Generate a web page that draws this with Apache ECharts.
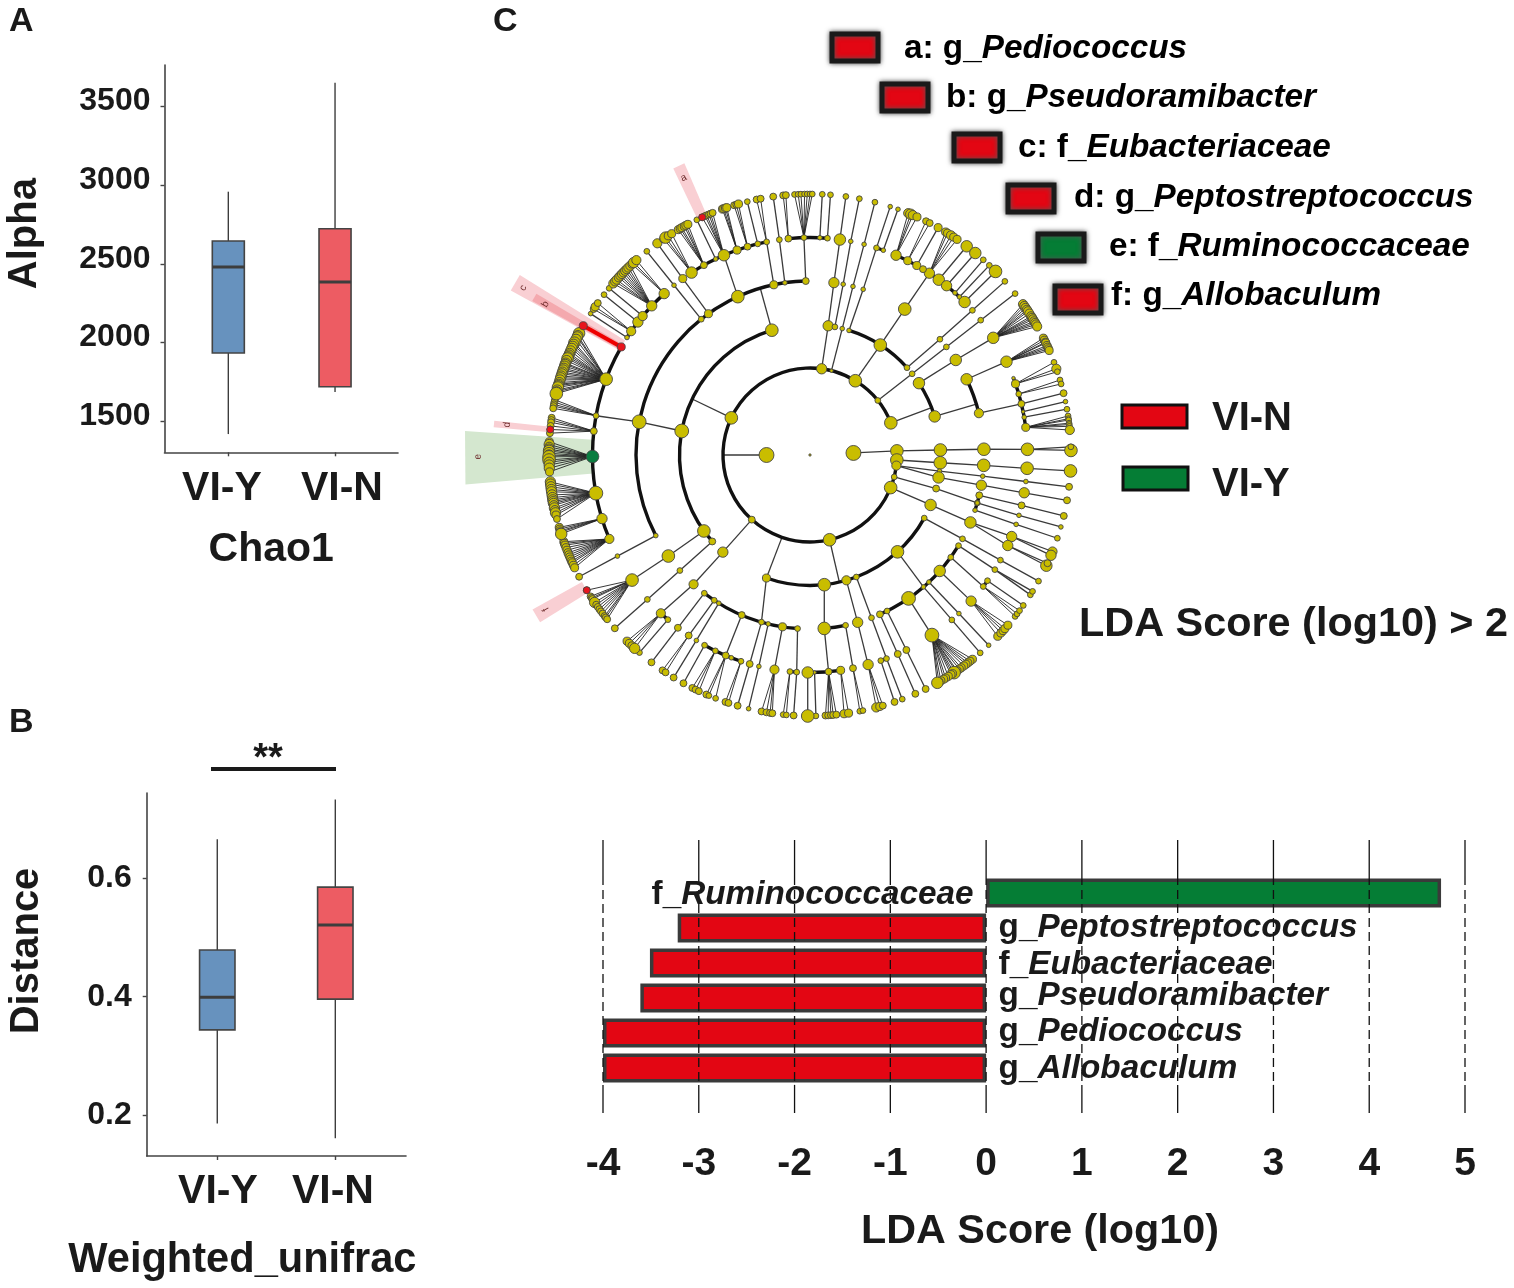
<!DOCTYPE html>
<html><head><meta charset="utf-8"><style>html,body{margin:0;background:#fff}#c{width:1514px;height:1288px}</style>
<script src="https://cdn.jsdelivr.net/npm/echarts@6/dist/echarts.min.js"></script></head>
<body><div id="c"></div><script>
// ---------- Panels A and B: [group position, low, Q1, median, Q3, high]
const groupNames = ['VI-Y', 'VI-N'];
const chao1Boxes = [[1, 1417, 1933, 2480, 2645, 2959], [2, 1684, 1718, 2384, 2723, 3652]];
const unifracBoxes = [[1, 0.186, 0.344, 0.399, 0.479, 0.666], [2, 0.161, 0.396, 0.521, 0.585, 0.733]];
const chao1Ticks = [1500, 2000, 2500, 3000, 3500];
const unifracTicks = [0.2, 0.4, 0.6];
// ---------- Panel C bars
const barTaxa = ['f_Ruminococcaceae', 'g_Peptostreptococcus', 'f_Eubacteriaceae', 'g_Pseudoramibacter', 'g_Pediococcus', 'g_Allobaculum'];
const barScores = [4.75, -3.22, -3.51, -3.61, -4, -4];
const ldaTicks = [-4, -3, -2, -1, 0, 1, 2, 3, 4, 5];
// ---------- Cladogram, polar values: level (ring), angle in degrees clockwise from north, marker size
const arcs = [[2,87.3,428.3],[3,56.6,72.8],[3,17.4,48],[3,8,11],[3,118.9,199.5],[3,-131.5,-17],[3,97.1,99.9],
 [4,64.2,76.1],[4,121.4,156.3],[4,184.1,217.4],[4,168.2,175.3],[4,103.4,108.5],[4,-117.6,-1.4],
 [5,23.3,45.3],[5,-5.7,4.6],[5,17.8,19.7],[5,69.3,82.7],[5,-112.7,-60.2],[5,-57.3,-42.1],[5,-33,-11.5],
 [5,198.5,209],[5,183.5,185.3],[5,171.9,180.6],[5,220.8,223.3],[5,159.4,161],[5,125.3,127.2],[5,112,114.6]];
const chains = [
 [[0,0,2]],
 [[1,87.3,13],[2,87.3,11],[3,87.8,11],[4,88.1,11],[5,88.5,11],[6,89,11]], [[5,88.5,0],[6,88.2,5]],
 [[2,93.3,11],[3,93.4,11],[4,93.4,11],[5,93.5,11],[6,93.5,11]],
 [[2,97,8],[3,97.1,4],[4,97,4],[5,97,4],[6,97,6]],
 [[2,97,0],[3,99.9,10],[4,100,9],[5,100,9],[6,100,6]],
 [[2,104.6,5],[3,104.9,6],[4,106,5]],
 [[4,103.4,6],[5,103.4,6],[6,103.5,6]], [[4,106,4],[5,106.1,4],[6,106,4]], [[4,108.5,4],[5,108.6,4],[6,108.6,5]],
 [[2,112,11],[3,112.5,10],[4,112.8,10],[5,112,9],[6,111.7,8]], [[5,112,0],[6,112.6,9]],
 [[4,112.8,0],[5,114.6,9],[6,115.1,10]], [[5,114.6,0],[6,114.5,6]],
 [[2,167,11],[3,167,0]],
 [[3,118.9,5],[4,118.8,5],[5,118.9,5],[6,118.9,5]],
 [[3,137.9,11],[4,139.3,0]],
 [[4,121.4,5],[5,121.8,5],[6,122.4,5]], [[5,121.8,0],[6,121.5,5]],
 [[4,126,5],[5,127.2,5]], [[5,125.3,5],[6,125.2,5]],
 [[4,131.8,10],[5,132.2,9]],
 [[4,136.9,4],[5,136.8,4],[6,136.8,4]],
 [[4,139.3,4],[5,139.3,5],[6,139.3,5]],
 [[4,145.5,12],[5,145.9,12]],
 [[4,153.7,5],[5,153.7,6],[6,153.7,6]],
 [[4,156.3,6],[5,156.2,6],[6,156.2,6]],
 [[3,159.2,5],[4,159.3,5],[5,159.4,5],[6,159.3,5]], [[5,161,5],[6,161.1,6]],
 [[3,163.8,8],[4,164.1,9],[5,164.5,9]],
 [[3,173.7,11],[4,175.3,11],[5,175.1,6]],
 [[4,168.2,5],[5,168.6,6]],
 [[5,178.8,3],[6,178.7,5]], [[5,180.6,10],[6,180.5,11]],
 [[4,184.1,5],[5,183.5,5],[6,183.6,6]],
 [[4,189.1,7],[5,189.4,8]],
 [[2,198.8,0],[3,199.5,7],[4,196.2,5],[5,196.1,6],[6,196.1,6]],
 [[4,193.9,4],[5,193.6,4],[6,193.6,4]],
 [[4,203.1,6],[5,202.8,6]],
 [[5,209,5],[6,209,6]],
 [[4,211.6,4],[5,211.5,4],[6,211.5,6]],
 [[4,213.4,5],[5,213.9,6]],
 [[4,217.4,5],[5,217.4,6],[6,217.4,6]],
 [[2,222,6],[3,221.9,9],[4,222,8],[5,223.3,8]], [[5,220.8,5],[6,220.8,5]],
 [[3,228.5,6],[4,228.4,5],[5,228.4,5],[6,228.4,6]],
 [[3,234.4,11],[4,234.5,11],[5,234.9,11]],
 [[4,242.4,4],[5,242.3,4],[6,242.2,6]],
 [[1,-90,13],[2,-90,0]],
 [[2,-64.7,11],[3,-64.6,0]],
 [[3,-79.4,12],[4,-79,12],[5,-79.6,5]],
 [[3,-17,11],[4,-16.6,0]],
 [[5,-57.3,4],[6,-57.2,4]],
 [[5,-52.3,9],[6,-52.1,5]],
 [[5,-50.3,8],[6,-50.3,5]],
 [[4,-38.7,5],[5,-38.7,4],[6,-38.7,5]],
 [[4,-35.7,7],[5,-35.8,7],[6,-35.8,8]],
 [[5,-25.7,4],[6,-25.7,5]],
 [[4,-24.5,11],[5,-23.3,10]],
 [[5,-13.9,5],[6,-13.9,5]],
 [[4,-12,7],[5,-11.5,5]],
 [[4,-8.3,4],[5,-8.1,5],[6,-8.1,6]],
 [[4,-1.4,6],[5,-1.6,5]],
 [[5,2.6,4],[6,2.7,5]], [[5,4.6,5],[6,4.5,5]],
 [[2,7.7,9],[3,8,9],[4,7.9,9],[5,7.9,10],[6,7.9,5]],
 [[3,11,5],[4,11,4],[5,10.8,4],[6,10.9,5]],
 [[2,14.3,3],[3,14.3,4],[4,14.3,4],[5,14.4,4],[6,14.4,5]],
 [[3,17.4,4],[4,17.8,4],[5,17.8,5],[6,17.9,4]], [[5,19.7,4],[6,19.7,4]],
 [[2,31.4,11],[3,32.6,11],[4,33,11],[5,33.3,9]],
 [[5,29.4,7],[6,29.4,7]], [[5,36.3,10],[6,36.9,10]], [[5,38.9,9],[6,39.3,10]],
 [[5,41.8,4],[6,41.6,5]], [[5,43.4,4],[6,43.4,5]], [[5,45.3,10],[6,45.3,11]], [[5,31.3,6]],
 [[3,48,5],[4,48.3,5],[5,48.3,5],[6,48.3,5]],
 [[2,51.2,5],[3,51.5,5],[4,51.6,5],[5,51.7,5],[6,51.8,5]],
 [[3,56.6,10],[4,56.9,10],[5,57.4,10]],
 [[4,64.2,10],[5,64.6,10]],
 [[2,68.3,11],[3,68.7,0]],
 [[3,72.8,10],[4,73,0]],
 [[4,76.1,8],[5,76.4,6],[6,76.3,6]],
 [[5,69.3,3]], [[5,78.5,3],[6,78.2,4]], [[5,80,4],[6,79.9,5]]
];
// fans: parent level, parent angle, parent size (0 when already drawn), leaf size, leaves (angle or [angle, size])
const fans = [
 [5,127.2,0,5,[128.2,127.5,126.6]],
 [5,132.2,0,7,[134,133,132.3,131.7,130.7]],
 [5,145.9,0,7,[141.5,142.2,142.8,143.3,143.9,144.6,145.1,145.7,146,[146.5,11],146.9,147.3,148,148.7,149.2,149.9,150.4,[150.8,10]]],
 [5,164.5,0,7,[[165.3,8],164.5,[163.8,6]]],
 [5,175.1,0,6,[176.6,176,175.4,174.9,174.2]],
 [5,168.6,0,5,[169,168.3]],
 [5,171.9,7,7,[172.5,171.5]],
 [5,185.3,5,5,[185.9,185.2]],
 [5,189.4,0,6,[190.7,189.6,188.8,188.3]],
 [5,202.8,0,5,[[203.4,6],202.8,201.2]],
 [5,198.5,5,6,[198.9,198.2]],
 [5,205.8,5,6,[206.8,206,205.2]],
 [5,201.2,4,4,[]],
 [5,213.9,0,6,[214.4,213.6]],
 [5,223.3,0,7,[224.5,223.8,223,[222.2,9]]],
 [5,234.9,0,6,[238.8,237.2,236.8,236.5,[235.6,9],235,234.4,233.8,233.2,232.6,231.9,231.5,231]],
 [5,247.3,8,7,[250.6,250.2,249.8,249.2,248.6,248,247.5,247,246.5,246,245.6,245,244.4]],
 [5,253,9,7,[253.9,253.5,253.1,252.8,[252.4,10]]],
 [5,259.9,12,9,[264.1,263.6,263,262.4,261.9,261.2,260.6,260.1,259.7,259.3,[258.9,8],258.3,[257.8,8],257.2,[256.7,7],[255.8,6]]],
 [5,269.6,0,9,[[272.9,7],272.3,[271.8,8],271.3,[270.9,10],[270.4,10],270,[269.6,11],[268.9,11],268.4,[267.8,9],267.1,[266.3,7]]],
 [5,-83.7,6,6,[-81.8,-82.3,-82.8,-83.6,-84.4,-85.2]],
 [5,-79.6,0,6,[-77.8,-78.3,-78.8,-79.2,-79.7]],
 [5,-69.6,11,9,[[-62.2,10],-62.8,-63.1,-63.7,[-64.5,10],-64.9,-65.4,-65.9,-66.5,-67.1,-67.5,-67.9,[-68.3,10],-68.8,-69.4,-69.7,-70.1,-70.6,-71,-71.5,-71.9,-72.4,-72.8,-73.3,-73.9,-74.3,-74.6,[-75,10],-75.6,-76,[-76.4,11]]],
 [5,-55.3,8,6,[-56,[-55.4,7],-54.4]],
 [5,-46.7,9,8,[-48.9,-48.3,-47.8,-47.1,-46.6,-46.1,-45.6,-45.1,-44.6,-44.1,-43.5]],
 [5,-42.1,9,7,[-43,[-42.5,9],[-41.7,8]]],
 [5,-33,10,7,[-34.1,[-33.6,10],-32.9,-32]],
 [5,-29.2,6,7,[-30.3,-29.8,-29.4,-28.8,-28.4,-27.9]],
 [5,-23.3,0,6,[-24.4,-23.7,-23.3,-22.8,-22.4,-21.9]],
 [5,-19.6,7,7,[-19.6,-19.3,-18.9,-18.6]],
 [5,-16.7,6,6,[-16.9,-16.4,[-15.9,7]]],
 [5,-11.5,0,6,[-11.8,-10.9]],
 [5,-1.6,0,5,[-3.4,-2.6,-2,-1.2,-0.6,0,0.5]],
 [5,-5.7,6,6,[-5.9,-5.3]],
 [5,23.3,9,8,[22.1,[22.7,9],23.2,[24.2,7]]],
 [5,26.7,7,6,[26.4,27.3]],
 [5,33.3,0,7,[31.3,31.8,[32.7,8],33.4,34.3]],
 [5,57.4,0,8,[54.7,55.2,55.7,56.2,56.6,57.2,57.9,58.3,58.7,59.2,59.6,60,60.5]],
 [5,64.6,0,7,[63.4,63.9,64.4,64.6,65.2,65.6,66,66.4]],
 [5,70.9,7,7,[[69.2,5],[70.7,8],[71.4,5]]],
 [5,73.7,5,5,[73.3,74.2]],
 [5,82.7,7,5,[81.4,82,82.3,83,83.3,83.7,[84.5,8]]]
];
// thick red branch and enriched clades: level, angle, size
const enrichedRed = [[6,-24.4,6],[5,-60.2,7],[6,-60.3,7],[6,-84.4,6],[6,238.8,6]];
const enrichedGreen = [[5,269.6,11]];
const redBranch = [[5,-60.2,6,-60.3]];
// highlight sectors: inner level, outer level, start angle, end angle, colour key
const sectors = [[6,7.3,-25.5,-23.3,'r'],[5,7.85,-61.2,-58.2,'r'],[5,7.3,-61,-59.5,'d'],[6,7.3,-85,-83.8,'r'],[5,7.95,-94.9,-86,'g'],[6,7.3,238.2,240.9,'r']];
const sectorLetters = [[7,-24.5,'a'],[7,-60.3,'b'],[7.63,-59.8,'c'],[7,-84.3,'d'],[7.63,-90.3,'e'],[7.03,239.7,'f']];
// legend text
const cladeLegend = [['a','g_','Pediococcus','r'],['b','g_','Pseudoramibacter','r'],['c','f_','Eubacteriaceae','r'],['d','g_','Peptostreptococcus','r'],['e','f_','Ruminococcaceae','g'],['f','g_','Allobaculum','r']];
const groupLegend = [['VI-N','r'],['VI-Y','g']];

// ---------- style and layout
const FF = '"Liberation Sans", Arial, sans-serif', INK = '#1a1a1a', LINE = '#444';
const RED = '#e30613', GREEN = '#057d35', NODE = '#c9bd00';
const boxFill = ['#6792be', '#ed5c63'];
const BOX_HALF = 0.15, NODE_SCALE = 1.15;
const mod = a => (a % 360 + 360) % 360;
const chart = echarts.init(document.getElementById('c'), null, { renderer: 'canvas' });

const nodes = [], edges = [], fanEdges = [];
chains.forEach(c => c.forEach((n, i) => {
  if (n[2] > 0) nodes.push([n[0], mod(n[1]), n[2]]);
  if (i) edges.push([c[i-1][0], c[i-1][1], n[0], n[1]]);
}));
fans.forEach(([l, a, ps, ls, leaves]) => {
  if (ps) nodes.push([l, mod(a), ps]);
  leaves.forEach(v => {
    const [ang, sz] = Array.isArray(v) ? v : [v, ls];
    nodes.push([6, mod(ang), sz]);
    fanEdges.push([l, a, 6, ang]);
  });
});

function boxItem(params, api) {
  const x = api.value(0), low = api.value(1), q1 = api.value(2), med = api.value(3), q3 = api.value(4), high = api.value(5);
  const p = (u, v) => api.coord([u, v]);
  const seg = (a, b, w) => ({ type: 'line', shape: { x1: a[0], y1: a[1], x2: b[0], y2: b[1] }, style: { stroke: '#3d3d3d', lineWidth: w } });
  const tl = p(x - BOX_HALF, q3), br = p(x + BOX_HALF, q1);
  return { type: 'group', children: [
    seg(p(x, low), p(x, q1), 1.4), seg(p(x, q3), p(x, high), 1.4),
    { type: 'rect', shape: { x: tl[0], y: tl[1], width: br[0] - tl[0], height: br[1] - tl[1] }, style: { fill: boxFill[params.dataIndex], stroke: '#444', lineWidth: 1.6 } },
    seg(p(x - BOX_HALF, med), p(x + BOX_HALF, med), 3)
  ] };
}
function polarEdge(w, col) {
  return (params, api) => {
    const a = api.coord([api.value(0), mod(api.value(1))]), b = api.coord([api.value(2), mod(api.value(3))]);
    return { type: 'line', shape: { x1: a[0], y1: a[1], x2: b[0], y2: b[1] }, style: { stroke: col, lineWidth: w } };
  };
}
function arcItem(params, api) {
  const c = api.coord([0, 0]), e = api.coord([api.value(0), 0]);
  const r = Math.abs(c[1] - e[1]), D = Math.PI / 180;
  return { type: 'arc', shape: { cx: c[0], cy: c[1], r, startAngle: (api.value(1) - 90) * D, endAngle: (api.value(2) - 90) * D, clockwise: true },
    style: { stroke: '#111', lineWidth: 3.4, fill: null } };
}
function sectorItem(params, api) {
  const r0 = api.value(0), r1 = api.value(1), a0 = mod(api.value(2)), a1 = mod(api.value(3));
  const points = [api.coord([r0, a0]), api.coord([r1, a0]), api.coord([r1, a1]), api.coord([r0, a1])];
  const k = sectors[params.dataIndex][4];
  return { type: 'polygon', shape: { points }, style: { fill: k === 'g' ? '#d4e7cf' : k === 'd' ? '#f4a9ae' : '#f9cfd3' } };
}
function letterItem(params, api) {
  const t = api.value(1), p = api.coord([api.value(0), mod(t)]);
  return { type: 'text', x: p[0], y: p[1], rotation: -t * Math.PI / 180,
    style: { text: sectorLetters[params.dataIndex][2], fill: '#6d2a2a', font: '10px ' + FF, align: 'center', verticalAlign: 'middle' } };
}
function ldaLineItem(params, api) {
  const v = api.value(0), seg = (f, g, dash) => {
    const a = api.coord([v, f]), b = api.coord([v, g]);
    return { type: 'line', shape: { x1: a[0], y1: a[1], x2: b[0], y2: b[1] }, style: { stroke: '#111', lineWidth: 1.3, lineDash: dash } };
  };
  return { type: 'group', children: [seg(1, 0.868, null), seg(0.868, 0.103, [9, 5]), seg(0.103, 0, null)] };
}
const leftBoxAxis = (ticks, min, max, name, gap, pad, labelStyle) => ({
  type: 'value', min, max, gridIndex: 0, name, nameLocation: 'middle', nameGap: gap,
  nameTextStyle: { fontFamily: FF, fontWeight: 'bold', fontSize: 40, color: INK, padding: pad },
  axisLine: { show: true, lineStyle: { color: LINE, width: 1.6 } },
  axisTick: { show: true, length: 4, lineStyle: { color: LINE, width: 1.4 }, customValues: ticks },
  axisLabel: Object.assign({ customValues: ticks, margin: 14, fontFamily: FF, fontWeight: 'bold', fontSize: 32, color: INK, formatter: v => String(v) }, labelStyle),
  splitLine: { show: false }
});
const bottomBoxAxis = (min, max, name, gap, pad, labelAt, margin, nameSize) => ({
  type: 'value', min, max, name, nameLocation: 'middle', nameGap: gap,
  nameTextStyle: { fontFamily: FF, fontWeight: 'bold', fontSize: nameSize, color: INK, padding: pad },
  axisLine: { show: true, lineStyle: { color: LINE, width: 1.6 } },
  axisTick: { show: true, length: 4, lineStyle: { color: LINE, width: 1.4 }, customValues: [1, 2] },
  axisLabel: { customValues: labelAt, margin, fontFamily: FF, fontWeight: 'bold', fontSize: 41, color: INK, formatter: v => groupNames[v < 1.5 ? 0 : 1] },
  splitLine: { show: false }
});
const richName = s => { const [p, n] = s.split('_'); return '{n|' + p + '_}{i|' + n + '}'; };
const rich33 = { n: { fontFamily: FF, fontWeight: 'bold', fontSize: 33.3, color: INK }, i: { fontFamily: FF, fontWeight: 'bold', fontStyle: 'italic', fontSize: 33.3, color: INK } };
const labelNudge = [0, -2, 0, -4, -3, -1];

// layout of hand-placed legend marks and panel letters
const cladeSlots = [[832,34,904,49],[882,84,946,98],[954,134,1018,148],[1008,185,1074,198],[1038,234,1109,247],[1055,286,1111,296]];
const groupSlots = [[1122,405,1212,419],[1123,467,1212,485]];
const graphics = [];
const txt = (x, y, text, size, align) => ({ type: 'text', x, y, style: { text, fill: INK, font: 'bold ' + size + 'px ' + FF, align: align || 'left', verticalAlign: 'middle' } });
graphics.push(txt(9, 22, 'A', 34), txt(9, 723, 'B', 34), txt(493, 22, 'C', 34));
graphics.push(txt(268, 760, '**', 38, 'center'));
graphics.push({ type: 'rect', shape: { x: 211, y: 767, width: 125, height: 4 }, style: { fill: INK } });
cladeLegend.forEach((c, i) => {
  const s = cladeSlots[i];
  graphics.push({ type: 'rect', shape: { x: s[0], y: s[1], width: 46, height: 27 }, style: { fill: c[3] === 'g' ? GREEN : RED, stroke: '#1a1a1a', lineWidth: 5, shadowBlur: 5, shadowColor: '#555' } });
  graphics.push({ type: 'text', x: s[2], y: s[3], style: { text: '{n|' + c[0] + ': ' + c[1] + '}{i|' + c[2] + '}', rich: rich33, align: 'left', verticalAlign: 'middle' } });
});
groupLegend.forEach((g, i) => {
  const s = groupSlots[i];
  graphics.push({ type: 'rect', shape: { x: s[0], y: s[1], width: 65, height: 23 }, style: { fill: g[1] === 'g' ? GREEN : RED, stroke: '#111', lineWidth: 3 } });
  graphics.push(txt(s[2], s[3], g[0], 40));
});
graphics.push(txt(1079, 625, 'LDA Score (log10) > 2', 41.4));

chart.setOption({
  animation: false, backgroundColor: '#fff',
  graphic: graphics,
  grid: [
    { left: 164.5, top: 65, width: 233.5, height: 387.3 },
    { left: 146.7, top: 793, width: 259.3, height: 363 },
    { left: 603, top: 840, width: 862, height: 273 },
    { left: 603, top: 875.5, width: 862, height: 210 }
  ],
  xAxis: [
    Object.assign(bottomBoxAxis(0.402, 2.59, 'Chao1', 77, [0, 20, 0, 0], [0.94, 2.065], 16, 41), { gridIndex: 0 }),
    Object.assign(bottomBoxAxis(0.402, 2.599, 'Weighted_unifrac', 84, [0, 68, 0, 0], [1.006, 1.98], 15, 41.6), { gridIndex: 1 }),
    { gridIndex: 2, type: 'value', min: -4, max: 5, interval: 1, name: 'LDA Score (log10)', nameLocation: 'middle', nameGap: 98,
      nameTextStyle: { fontFamily: FF, fontWeight: 'bold', fontSize: 41.3, color: INK, padding: [0, 0, 0, 12] },
      axisLine: { show: false }, axisTick: { show: false }, splitLine: { show: false },
      axisLabel: { margin: 32, fontFamily: FF, fontWeight: 'bold', fontSize: 39, color: INK, customValues: ldaTicks } },
    { gridIndex: 3, type: 'value', min: -4, max: 5, interval: 1, show: false, splitLine: { show: false } }
  ],
  yAxis: [
    leftBoxAxis(chao1Ticks, 1301, 3765, 'Alpha', 120, [0, 0, 0, 50], { verticalAlign: 'bottom', lineHeight: 10 }),
    Object.assign(leftBoxAxis(unifracTicks, 0.131, 0.744, 'Distance', 100, [0, 0, 0, 47], { margin: 15 }), { gridIndex: 1 }),
    { gridIndex: 2, type: 'value', min: 0, max: 1, show: false, splitLine: { show: false } },
    { gridIndex: 3, type: 'category', inverse: true, data: barTaxa, show: false }
  ],
  polar: { center: [810, 455], radius: [0, 261] },
  radiusAxis: { min: 0, max: 6, show: false, splitLine: { show: false }, axisLine: { show: false }, axisTick: { show: false }, axisLabel: { show: false } },
  angleAxis: { min: 0, max: 360, startAngle: 90, show: false, splitLine: { show: false }, axisLine: { show: false }, axisTick: { show: false }, axisLabel: { show: false } },
  series: [
    { type: 'custom', name: 'Chao1', xAxisIndex: 0, yAxisIndex: 0, data: chao1Boxes, renderItem: boxItem, encode: { x: 0, y: [1, 2, 3, 4, 5] }, z: 3 },
    { type: 'custom', name: 'Weighted_unifrac', xAxisIndex: 1, yAxisIndex: 1, data: unifracBoxes, renderItem: boxItem, encode: { x: 0, y: [1, 2, 3, 4, 5] }, z: 3 },
    { type: 'bar', name: 'LDA', xAxisIndex: 3, yAxisIndex: 3, barWidth: 29, clip: false, z: 2,
      data: barScores.map((v, i) => ({ value: v, itemStyle: { color: v > 0 ? GREEN : RED } })),
      itemStyle: { borderColor: '#3a3a3a', borderWidth: 3.5 } },
    { type: 'scatter', name: 'taxa', xAxisIndex: 3, yAxisIndex: 3, symbolSize: 1, itemStyle: { color: 'transparent', opacity: 1 }, z: 6, clip: false,
      data: barTaxa.map((t, i) => ({ value: [0, t], label: { show: true, position: barScores[i] > 0 ? 'left' : 'right', distance: 12, offset: [0, labelNudge[i] + 2],
        formatter: richName(t), rich: rich33 } })) },
    { type: 'custom', name: 'LDA grid', xAxisIndex: 2, yAxisIndex: 2, data: ldaTicks.map(v => [v]), renderItem: ldaLineItem, encode: { x: 0 }, z: 5, clip: false },
    { type: 'custom', name: 'sectors', coordinateSystem: 'polar', data: sectors.map(s => s.slice(0, 4)), renderItem: sectorItem, z: 1 },
    { type: 'custom', name: 'letters', coordinateSystem: 'polar', data: sectorLetters.map(s => s.slice(0, 2)), renderItem: letterItem, z: 2 },
    { type: 'custom', name: 'fan branches', coordinateSystem: 'polar', data: fanEdges, renderItem: polarEdge(0.9, '#222'), z: 3 },
    { type: 'custom', name: 'branches', coordinateSystem: 'polar', data: edges, renderItem: polarEdge(1.3, '#3a3a3a'), z: 3 },
    { type: 'custom', name: 'arcs', coordinateSystem: 'polar', data: arcs, renderItem: arcItem, z: 4 },
    { type: 'custom', name: 'red branch', coordinateSystem: 'polar', data: redBranch, renderItem: polarEdge(4, '#e00'), z: 5 },
    { type: 'scatter', name: 'clades', coordinateSystem: 'polar', data: nodes, symbolSize: v => v[2] * NODE_SCALE, encode: { radius: 0, angle: 1 }, z: 6,
      itemStyle: { color: NODE, borderColor: '#444', borderWidth: 0.9, opacity: 1 } },
    { type: 'scatter', name: 'VI-N clades', coordinateSystem: 'polar', data: enrichedRed.map(n => [n[0], mod(n[1]), n[2]]), symbolSize: v => v[2] * NODE_SCALE, encode: { radius: 0, angle: 1 }, z: 7,
      itemStyle: { color: '#e8141c', borderColor: '#444', borderWidth: 0.8, opacity: 1 } },
    { type: 'scatter', name: 'VI-Y clades', coordinateSystem: 'polar', data: enrichedGreen.map(n => [n[0], mod(n[1]), n[2]]), symbolSize: v => v[2] * NODE_SCALE, encode: { radius: 0, angle: 1 }, z: 7,
      itemStyle: { color: '#0a7d40', borderColor: '#444', borderWidth: 0.8, opacity: 1 } }
  ]
});
</script></body></html>
